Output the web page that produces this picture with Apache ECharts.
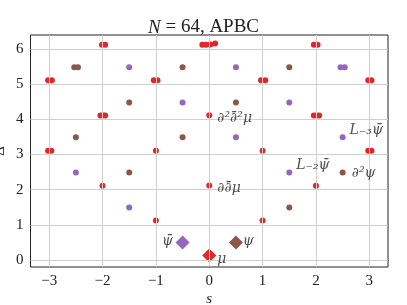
<!DOCTYPE html>
<html><head><meta charset="utf-8">
<script src="https://cdn.jsdelivr.net/npm/echarts@6/dist/echarts.min.js"></script>
<style>html,body{margin:0;padding:0;background:#fff}#c{width:407px;height:305px}</style>
</head><body><div id="c"></div>
<script>
const xTicks = [-3, -2, -1, 0, 1, 2, 3];
const yTicks = [0, 1, 2, 3, 4, 5, 6];

// primaries (diamonds)
const muPrimary = [[0, 0.125]];
const psiBarPrimary = [[-0.5, 0.5]];
const psiPrimary = [[0.5, 0.5]];

// descendants (dots): [s, Delta]
const muDesc = [
  [-1, 1.12], [1, 1.12],
  [-2, 2.11], [0, 2.12], [2, 2.11],
  [-3.02, 3.11], [-2.96, 3.11], [-1, 3.11], [1, 3.11], [2.98, 3.11], [3.04, 3.11],
  [-2.04, 4.11], [-1.99, 4.11], [-1.95, 4.11], [0, 4.12], [1.96, 4.11], [2.01, 4.11], [2.06, 4.11],
  [-3.02, 5.11], [-2.95, 5.11], [-1.04, 5.11], [-0.97, 5.11], [0.97, 5.11], [1.05, 5.11], [2.98, 5.11], [3.04, 5.11],
  [-2.01, 6.12], [-1.95, 6.12], [-0.13, 6.12], [-0.06, 6.12], [0.02, 6.13], [0.11, 6.16], [1.96, 6.12], [2.03, 6.12]
];
const psiBarDesc = [
  [-1.5, 1.49],
  [-2.5, 2.49], [1.5, 2.49],
  [0.5, 3.49], [2.5, 3.49],
  [-0.5, 4.48], [1.5, 4.48],
  [-1.5, 5.48], [0.5, 5.48], [2.46, 5.48], [2.54, 5.48]
];
const psiDesc = [
  [1.5, 1.49],
  [-1.5, 2.49], [2.5, 2.49],
  [-2.5, 3.49], [-0.5, 3.49],
  [-1.5, 4.48], [0.5, 4.48],
  [-2.53, 5.48], [-2.46, 5.48], [-0.5, 5.48], [1.5, 5.48]
];

// annotations
const labelTexts = ['μ', 'ψ̄', 'ψ', '∂∂̄μ', '∂²∂̄²μ', 'L₋₂ψ̄', 'L₋₃ψ̄', '∂²ψ'];
const labelPos = [[0.15, 0.02], [-0.68, 0.54], [0.63, 0.54], [0.15, 2.03], [0.15, 4.02], [1.63, 2.68], [2.63, 3.70], [2.67, 2.45]];
const labelAlign = ['left', 'right', 'left', 'left', 'left', 'left', 'left', 'left'];

const RED = '#e0282a', PURPLE = '#9467bd', BROWN = '#8c564b';
const SERIF = '"Liberation Serif", "DejaVu Serif", serif';
const LSERIF = '"DejaVu Serif", serif';

const chart = echarts.init(document.getElementById('c'));
const fmt = v => String(v).replace('-', '\u2212');

chart.setOption({
  animation: false,
  backgroundColor: '#fff',
  title: {
    text: '{i|N} = 64, APBC',
    left: 'center', top: 13,
    textStyle: {
      fontFamily: SERIF, fontSize: 19, fontWeight: 'normal', color: '#222',
      rich: { i: { fontFamily: SERIF, fontSize: 19, fontStyle: 'italic', color: '#222' } }
    }
  },
  grid: { left: 30.5, right: 19, top: 35, bottom: 38, show: true, borderColor: '#222', borderWidth: 1, containLabel: false, outerBoundsMode: 'none' },
  xAxis: {
    type: 'value', min: -3.35, max: 3.35,
    name: 's', nameLocation: 'middle', nameGap: 25, nameMoveOverlap: false,
    nameTextStyle: { fontFamily: SERIF, fontSize: 15, fontStyle: 'italic', color: '#222' },
    axisLine: { show: true, lineStyle: { color: '#222', width: 1 } },
    axisTick: { show: true, customValues: xTicks, length: 4, lineStyle: { color: '#222' } },
    axisLabel: { customValues: xTicks, formatter: fmt, fontFamily: SERIF, fontSize: 15, color: '#222', margin: 7 },
    splitLine: { show: false }
  },
  yAxis: {
    type: 'value', min: -0.2, max: 6.4,
    name: 'Δ', nameLocation: 'middle', nameGap: 23, nameRotate: 90, nameMoveOverlap: false,
    nameTextStyle: { fontFamily: SERIF, fontSize: 15, color: '#222' },
    axisLine: { show: true, lineStyle: { color: '#222', width: 1 } },
    axisTick: { show: true, customValues: yTicks, length: 4, lineStyle: { color: '#222' } },
    axisLabel: { customValues: yTicks, formatter: fmt, fontFamily: SERIF, fontSize: 15, color: '#222', margin: 7 },
    splitLine: { show: false }
  },
  series: [
    {
      type: 'scatter', data: [], z: 1, silent: true,
      markLine: {
        silent: true, symbol: 'none', animation: false,
        label: { show: false },
        lineStyle: { color: '#d0d0d0', width: 1, type: 'solid' },
        data: xTicks.map(v => ({ xAxis: v })).concat(yTicks.map(v => ({ yAxis: v })))
      }
    },
    { type: 'scatter', data: muDesc, symbol: 'circle', symbolSize: 6, itemStyle: { color: RED, opacity: 1 }, z: 3 },
    { type: 'scatter', data: psiBarDesc, symbol: 'circle', symbolSize: 6, itemStyle: { color: PURPLE, opacity: 1 }, z: 3 },
    { type: 'scatter', data: psiDesc, symbol: 'circle', symbolSize: 6, itemStyle: { color: BROWN, opacity: 1 }, z: 3 },
    { type: 'scatter', data: muPrimary, symbol: 'diamond', symbolSize: [14, 14], itemStyle: { color: RED, opacity: 1 }, z: 4 },
    { type: 'scatter', data: psiBarPrimary, symbol: 'diamond', symbolSize: [14, 14], itemStyle: { color: PURPLE, opacity: 1 }, z: 4 },
    { type: 'scatter', data: psiPrimary, symbol: 'diamond', symbolSize: [14, 14], itemStyle: { color: BROWN, opacity: 1 }, z: 4 },
    {
      type: 'scatter', symbolSize: 0, z: 5, silent: true,
      data: labelTexts.map((t, i) => ({
        name: t, value: labelPos[i],
        label: { show: true, position: 'inside', align: labelAlign[i], verticalAlign: 'middle', formatter: t,
          fontFamily: LSERIF, fontSize: 14, fontStyle: 'italic', color: '#222' }
      }))
    }
  ]
});
</script>
</body></html>
